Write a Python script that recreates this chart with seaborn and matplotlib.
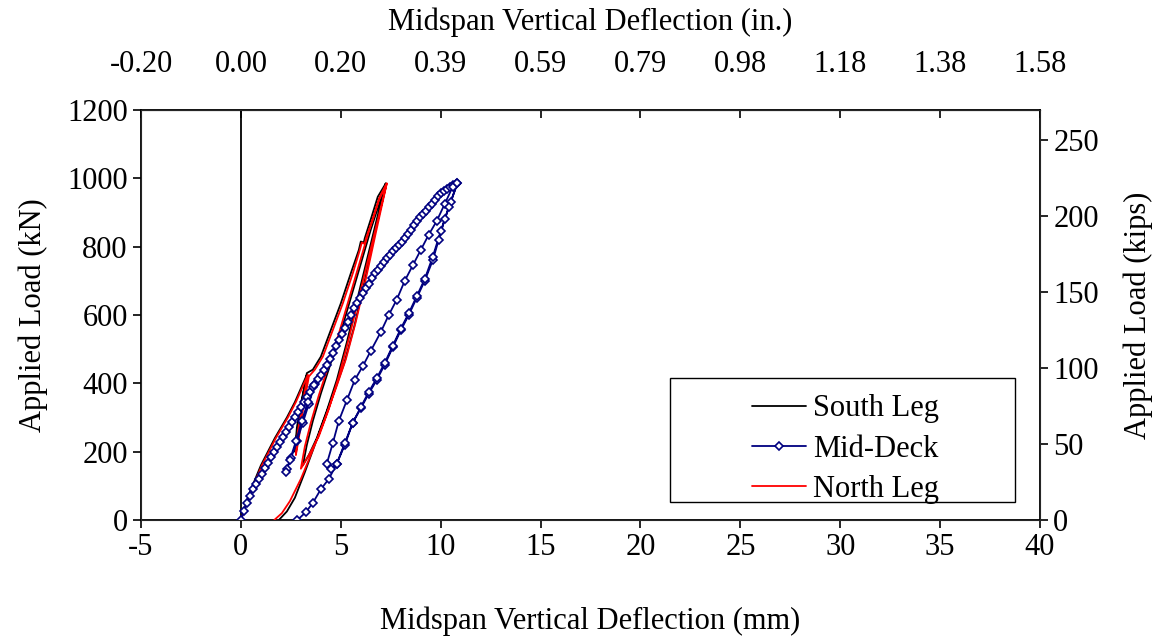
import matplotlib
matplotlib.use("Agg")
import matplotlib.pyplot as plt
from matplotlib.patches import Rectangle
import seaborn as sns

sns.set_style("white")
plt.rcParams["font.family"] = ["Liberation Serif", "DejaVu Serif"]
plt.rcParams["axes.unicode_minus"] = False
plt.rcParams["text.color"] = "black"
plt.rcParams["axes.labelcolor"] = "black"
plt.rcParams["xtick.color"] = "black"
plt.rcParams["ytick.color"] = "black"

### Data (deflection in mm, load in kN)
south_x = [0.0, 0.4, 1.0, 1.7, 2.3, 2.7, 3.0, 3.3,
           3.0, 2.8, 2.7, 2.8, 3.0, 3.3,
           3.6, 4.0, 4.5, 5.0, 5.5, 5.9, 6.0, 6.15, 6.2, 6.5, 6.85, 7.25,
           6.8, 6.3, 5.8, 5.3, 4.8, 4.3, 3.8, 3.4, 3.1,
           3.3, 3.6, 4.0, 4.5, 5.0, 5.5, 6.0, 6.5, 7.0, 7.25,
           6.67, 6.17, 5.67, 5.17, 4.7, 4.2, 3.7, 3.2, 2.7, 2.3, 1.9]
south_y = [0, 75, 160, 240, 300, 345, 385, 425,
           340, 270, 200, 250, 330, 430,
           440, 478, 556, 634, 722, 790, 815, 812, 825, 880, 946, 985,
           880, 760, 640, 520, 410, 320, 240, 190, 160,
           220, 290, 370, 460, 550, 650, 750, 850, 940, 985,
           829, 693, 566, 459, 380, 300, 220, 140, 65, 25, 0]

north_x = [0.0, 0.45, 1.05, 1.75, 2.35, 2.75, 3.05, 3.35,
           3.05, 2.85, 2.75, 2.9, 3.1, 3.4,
           3.7, 4.1, 4.6, 5.1, 5.6, 5.95, 6.05, 6.2, 6.25, 6.6, 6.95, 7.3,
           6.9, 6.4, 5.9, 5.4, 4.9, 4.4, 3.9, 3.4, 3.0,
           3.2, 3.5, 3.9, 4.4, 4.9, 5.4, 5.9, 6.4, 6.9, 7.3,
           6.75, 6.25, 5.75, 5.25, 4.75, 4.2, 3.6, 3.0, 2.45, 2.05, 1.67]
north_y = [0, 75, 160, 240, 300, 345, 385, 425,
           330, 260, 190, 240, 320, 420,
           440, 478, 556, 634, 722, 790, 812, 808, 822, 880, 946, 985,
           890, 770, 650, 530, 420, 325, 245, 190, 150,
           215, 285, 365, 455, 545, 645, 745, 845, 935, 985,
           840, 705, 580, 470, 385, 295, 205, 120, 55, 20, 0]

mid_x = [0.0, 0.15, 0.3, 0.45, 0.6, 0.75, 0.9, 1.05, 1.2, 1.35, 1.5, 1.65, 1.8,
         1.95, 2.1, 2.25, 2.4, 2.55, 2.7, 2.85, 3.0, 3.15, 3.3, 3.45, 3.6, 3.7,
         3.4, 3.1, 2.8, 2.5, 2.3, 2.25,
         2.45, 2.75, 3.05, 3.35, 3.65,
         3.85, 4.0, 4.15, 4.3, 4.45, 4.6, 4.75, 4.9, 5.05, 5.2, 5.35, 5.5, 5.65,
         5.8, 5.95, 6.1, 6.25, 6.4, 6.55, 6.7, 6.85, 7.0, 7.15, 7.3, 7.45, 7.6,
         7.75, 7.9, 8.05, 8.2, 8.35, 8.5, 8.65, 8.8, 8.95, 9.1, 9.25, 9.4, 9.55,
         9.7, 9.85, 10.0, 10.15, 10.3, 10.45, 10.6, 10.75, 10.83,
         10.5, 10.2, 9.9, 9.6, 9.2, 8.8, 8.4, 8.0, 7.6, 7.2, 6.8, 6.4, 6.0, 5.6,
         5.2, 4.8, 4.5,
         4.3, 4.6, 4.9, 5.3, 5.7, 6.1, 6.5, 7.0, 7.4, 7.8, 8.2, 8.6, 9.0, 9.4,
         9.8, 10.2, 10.6, 10.83,
         10.4, 10.0, 9.6, 9.2, 8.8, 8.4, 8.0, 7.6, 7.2, 6.8, 6.4, 6.0, 5.6, 5.2,
         4.8, 4.4, 4.0, 3.6, 3.25, 2.83]
mid_y = [0, 25, 50, 70, 90, 105, 120, 135, 152, 168, 184, 200, 215,
         228, 243, 258, 272, 287, 302, 316, 331, 345, 360, 374, 388, 398,
         340, 285, 230, 180, 150, 140,
         175, 230, 290, 345, 395,
         412, 425, 440, 455, 472, 490, 508, 526, 543, 562, 580, 600, 620,
         636, 650, 664, 678, 692, 708, 722, 733, 744, 755, 766, 776, 786,
         795, 804, 814, 826, 838, 850, 862, 874, 886, 895, 905, 916, 926,
         937, 947, 956, 963, 969, 975, 980, 984, 985,
         930, 880, 820, 760, 700, 650, 600, 555, 505, 455, 410, 370, 327, 285,
         220, 165, 150,
         165, 225, 290, 350, 410, 450, 495, 550, 600, 645, 700, 745, 790, 835,
         875, 925, 975, 985,
         915, 845, 770, 705, 655, 605, 560, 510, 460, 415, 375, 330, 285, 225,
         165, 120, 90, 50, 23, 0]

x_ticks = [-5, 0, 5, 10, 15, 20, 25, 30, 35, 40]
inch_labels = ["-0.20", "0.00", "0.20", "0.39", "0.59", "0.79", "0.98", "1.18", "1.38", "1.58"]
y_ticks = [0, 200, 400, 600, 800, 1000, 1200]
kip_ticks = [0, 50, 100, 150, 200, 250]

fs = 22
fig = plt.figure(figsize=(11.56, 6.37), dpi=100)
ax = fig.add_axes([0.122, 0.1837, 0.7777, 0.6436])

sns.lineplot(x=south_x, y=south_y, sort=False, estimator=None, ax=ax,
             color="black", linewidth=1.3, label="South Leg", zorder=3)
sns.lineplot(x=mid_x, y=mid_y, sort=False, estimator=None, ax=ax,
             color="#000080", linewidth=1.3, marker="D", markersize=4.5,
             markerfacecolor="white", markeredgecolor="#000080",
             markeredgewidth=1.2, label="Mid-Deck", zorder=5)
sns.lineplot(x=north_x, y=north_y, sort=False, estimator=None, ax=ax,
             color="red", linewidth=1.3, label="North Leg", zorder=4)

# Excel-style y axis crossing at zero deflection
ax.axvline(0, color="black", linewidth=1.3, zorder=2)

ax.set_xlim(-5, 40)
ax.set_ylim(0, 1200)
ax.set_xticks(x_ticks)
ax.set_yticks(y_ticks)
ax.tick_params(axis="both", direction="out", length=6, width=1.2,
               labelsize=fs, color="black", bottom=True, left=True)
ax.set_xlabel("Midspan Vertical Deflection (mm)", fontsize=fs, labelpad=32)
ax.set_ylabel("Applied Load (kN)", fontsize=fs, labelpad=14)
for s in ax.spines.values():
    s.set_color("black")
    s.set_linewidth(1.3)

# top axis in inches
top = ax.secondary_xaxis("top")
top.set_xticks(x_ticks, labels=inch_labels)
top.tick_params(direction="in", length=6, width=1.2, labelsize=fs, pad=22)
top.set_xlabel("Midspan Vertical Deflection (in.)", fontsize=fs, labelpad=15)

# right axis in kips
right = ax.twinx()
right.set_ylim(0, 1200 / 4.448)
right.set_yticks(kip_ticks)
right.tick_params(direction="out", length=6, width=1.2, labelsize=fs,
                  right=True, color="black")
right.set_ylabel("Applied Load (kips)", fontsize=fs, labelpad=18)
right.grid(False)
ax.grid(False)

# legend with Excel-like wide box
ax.legend(loc="center left", bbox_to_anchor=(0.68, 0.173), frameon=False,
          fontsize=fs, handlelength=1.74, handletextpad=0.25, labelspacing=0.37,
          borderpad=0, borderaxespad=0)
ax.add_patch(Rectangle((0.588, 0.044), 0.384, 0.302, transform=ax.transAxes,
                       fill=False, edgecolor="black", linewidth=1.0, zorder=6))

fig.savefig("out.png", dpi=100)
